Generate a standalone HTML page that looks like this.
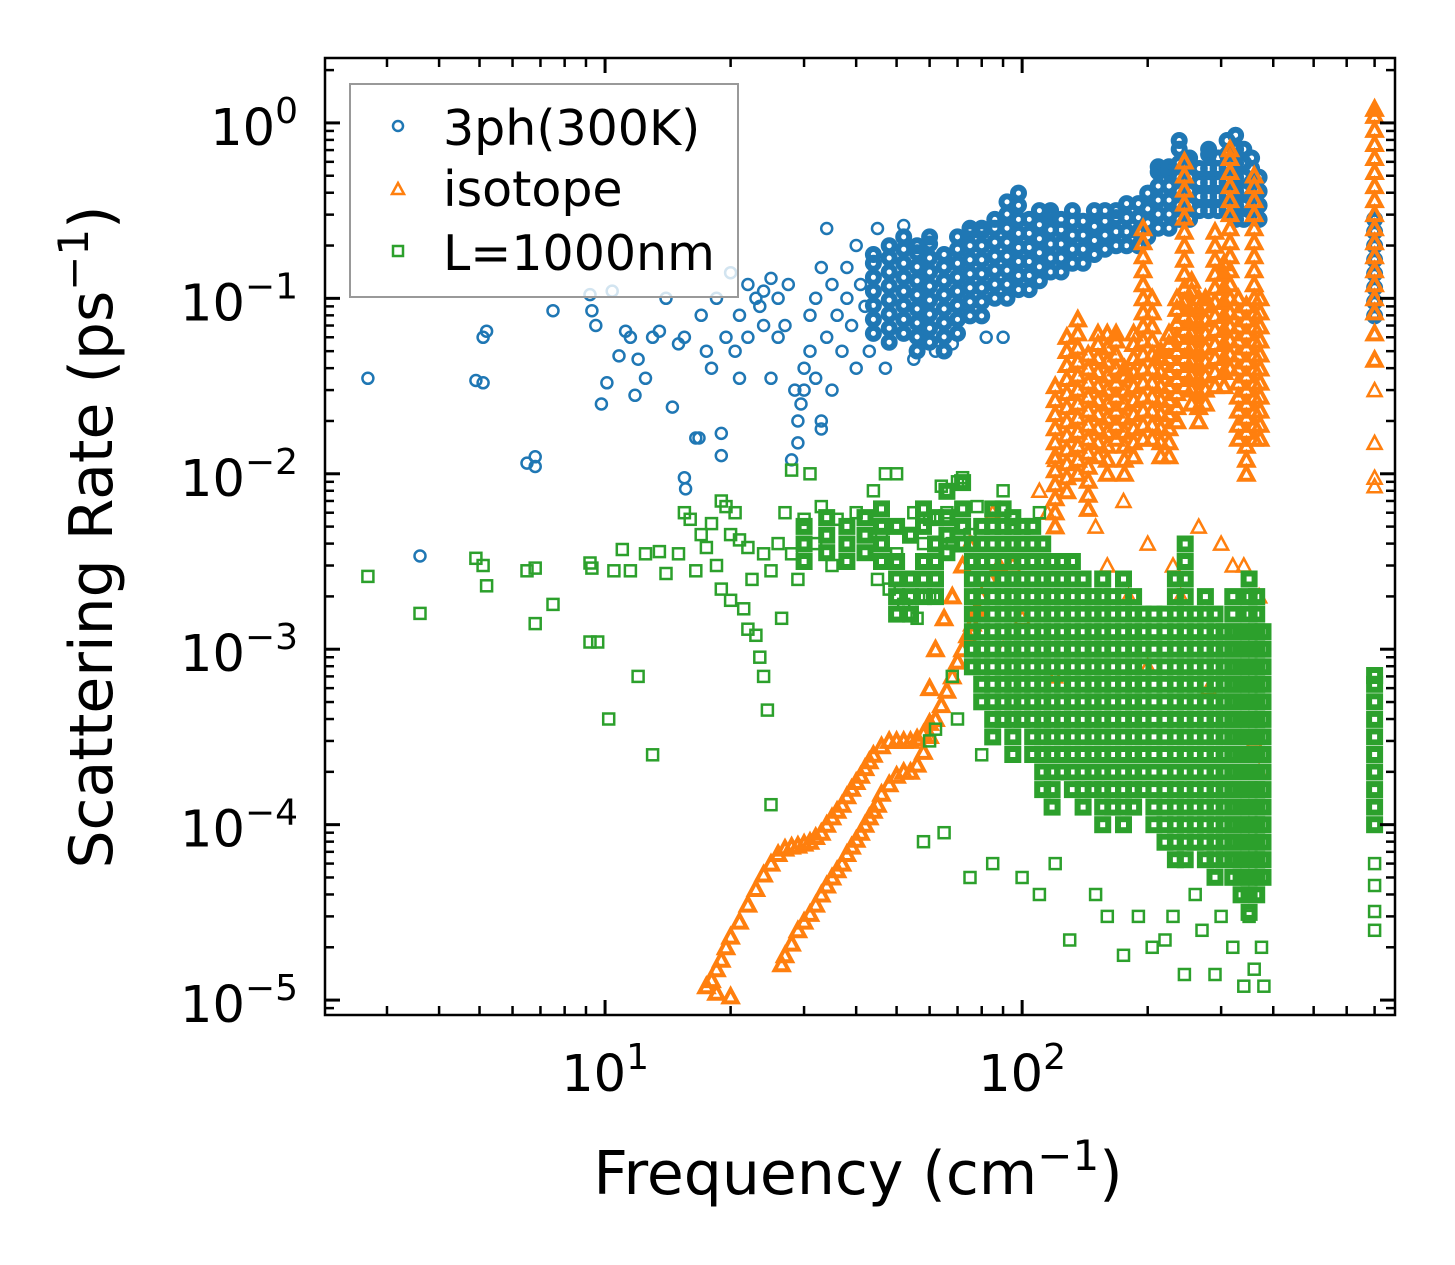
<!DOCTYPE html>
<html><head><meta charset="utf-8">
<style>
html,body{margin:0;padding:0;background:#fff;}
svg{display:block;font-family:"DejaVu Sans","Liberation Sans",sans-serif;}
</style></head>
<body>
<svg id="chart" width="1455" height="1265" viewBox="0 0 1455 1265" xmlns="http://www.w3.org/2000/svg">
<rect x="0" y="0" width="1455" height="1265" fill="#fff"/>
<g id="marks"></g>
<g id="axes"></g>
<g id="legend">
  <rect x="350" y="84" width="388" height="213" fill="#fff" fill-opacity="0.8" stroke="#999" stroke-width="2"/>
  <circle cx="398" cy="126" r="5" fill="none" stroke="#1f77b4" stroke-width="2.5"/>
  <text x="443" y="145" font-size="49">3ph(300K)</text>
  <polygon points="398,183 404,194 392,194" fill="none" stroke="#ff7f0e" stroke-width="2.5"/>
  <text x="443" y="206" font-size="49">isotope</text>
  <rect x="393" y="246" width="10" height="10" fill="none" stroke="#2ca02c" stroke-width="2.5"/>
  <text x="443" y="270" font-size="49">L=1000nm</text>
</g>
<text x="858" y="1194" font-size="60" text-anchor="middle">Frequency (cm<tspan dy="-24" font-size="42">−1</tspan><tspan dy="24">)</tspan></text>
<text transform="translate(112,537) rotate(-90)" x="0" y="0" font-size="60" text-anchor="middle">Scattering Rate (ps<tspan dy="-24" font-size="42">−1</tspan><tspan dy="24">)</tspan></text>
</svg>
<script>
// axis tick data
const xMajorExps = [1, 2];
const yMajorExps = [0, -1, -2, -3, -4, -5];
// 3ph sparse points [freq, rate]
const blueSparse = [[2.7,0.035],[3.6,0.0034],[4.9,0.034],[5.1,0.06],[5.1,0.033],[5.2,0.065],[6.5,0.0115],[6.8,0.0125],[6.8,0.011],[7.5,0.085],[9.2,0.105],[9.3,0.085],[9.5,0.07],[9.8,0.025],[10.1,0.033],[10.4,0.11],[10.8,0.047],[11.2,0.065],[11.5,0.06],[11.8,0.028],[12,0.045],[12.5,0.035],[13,0.06],[13.5,0.065],[14,0.1],[14.5,0.024],[15,0.055],[15.5,0.06],[15.5,0.0095],[15.6,0.0082],[16.5,0.016],[16.8,0.016],[17,0.08],[17.5,0.05],[18,0.04],[18.5,0.1],[19,0.017],[19,0.0127],[19.5,0.06],[20,0.14],[20.5,0.05],[21,0.035],[21,0.08],[22,0.12],[22,0.06],[23,0.1],[23.5,0.09],[24,0.11],[24,0.07],[25,0.13],[25,0.035],[26,0.1],[26,0.06],[27,0.07],[27.5,0.12],[28,0.012],[28.5,0.03],[29,0.02],[29,0.015],[29.5,0.025],[30,0.03],[30,0.04],[31,0.05],[31,0.08],[32,0.1],[32,0.035],[33,0.15],[33,0.02],[33,0.018],[34,0.25],[34,0.06],[35,0.12],[35,0.03],[36,0.08],[37,0.05],[38,0.15],[38,0.1],[39,0.07],[40,0.2],[40,0.04],[41,0.12],[42,0.09],[43,0.05],[45,0.25],[47,0.04],[52,0.26],[55,0.045],[62,0.05],[68,0.055],[82,0.06],[90,0.06]];
// 3ph dense columns [freq, [log10 rate ...]]
const blueCols = [
[44,[-1.2,-1.12,-1.04,-0.96,-0.88,-0.8,-0.75]],
[48,[-1.25,-1.17,-1.09,-1.01,-0.93,-0.85,-0.77,-0.7]],
[52,[-1.2,-1.12,-1.04,-0.96,-0.88,-0.8,-0.72,-0.65]],
[56,[-1.3,-1.22,-1.14,-1.06,-0.98,-0.9,-0.82,-0.74,-0.7]],
[60,[-1.25,-1.17,-1.09,-1.01,-0.93,-0.85,-0.77,-0.69,-0.65]],
[65,[-1.3,-1.22,-1.14,-1.06,-0.98,-0.9,-0.82,-0.75]],
[70,[-1.2,-1.12,-1.04,-0.96,-0.88,-0.8,-0.72,-0.65]],
[75,[-1.1,-1.02,-0.94,-0.86,-0.78,-0.7,-0.62,-0.6]],
[80,[-1.1,-1.02,-0.94,-0.86,-0.78,-0.7,-0.62,-0.6]],
[86,[-1.0,-0.92,-0.84,-0.76,-0.68,-0.6,-0.55]],
[92,[-1.0,-0.92,-0.84,-0.76,-0.68,-0.6,-0.52,-0.45]],
[98,[-0.95,-0.87,-0.79,-0.71,-0.63,-0.55,-0.47,-0.4]],
[104,[-0.95,-0.87,-0.79,-0.71,-0.63,-0.55]],
[110,[-0.9,-0.82,-0.74,-0.66,-0.58,-0.5]],
[117,[-0.85,-0.77,-0.69,-0.61,-0.53,-0.5]],
[124,[-0.85,-0.77,-0.69,-0.61,-0.55]],
[132,[-0.8,-0.72,-0.64,-0.56,-0.5]],
[140,[-0.8,-0.72,-0.64,-0.56]],
[149,[-0.75,-0.67,-0.59,-0.5]],
[158,[-0.72,-0.64,-0.56,-0.5]],
[168,[-0.7,-0.62,-0.54,-0.5]],
[178,[-0.7,-0.62,-0.54,-0.46]],
[190,[-0.7,-0.62,-0.54,-0.46]],
[200,[-0.65,-0.57,-0.49,-0.4]],
[212,[-0.6,-0.52,-0.44,-0.36,-0.28,-0.25]],
[225,[-0.6,-0.52,-0.44,-0.36,-0.28,-0.25]],
[238,[-0.55,-0.47,-0.39,-0.31,-0.23,-0.15,-0.1]],
[252,[-0.55,-0.47,-0.39,-0.31,-0.23,-0.2]],
[266,[-0.5,-0.42,-0.34,-0.26]],
[280,[-0.5,-0.42,-0.34,-0.26,-0.18,-0.15]],
[295,[-0.5,-0.42,-0.34,-0.26,-0.2]],
[310,[-0.5,-0.42,-0.34,-0.26,-0.18,-0.1]],
[325,[-0.55,-0.47,-0.39,-0.31,-0.23,-0.15,-0.07]],
[340,[-0.55,-0.47,-0.39,-0.31,-0.23,-0.15]],
[355,[-0.5,-0.42,-0.34,-0.26,-0.2]],
[370,[-0.55,-0.47,-0.39,-0.31]],
[700,[-1.1,-1.02,-0.94,-0.86,-0.78,-0.7,-0.62,-0.55]]];
// isotope curves [freq, rate]
const orangeCurveA = [[17.5,1.2e-5],[18,1.3e-5],[18.5,1.5e-5],[19,1.7e-5],[19.5,2e-5],[20,2.3e-5],[21,2.8e-5],[22,3.5e-5],[23,4.3e-5],[24,5.2e-5],[25,6e-5],[26,6.8e-5],[27,7.3e-5],[28,7.5e-5],[29,7.6e-5],[30,7.8e-5],[31,8e-5],[32,8.5e-5],[33,9e-5],[34,1e-4],[35,1.1e-4],[36,1.2e-4],[37,1.3e-4],[38,1.45e-4],[39,1.6e-4],[40,1.75e-4],[41,1.9e-4],[42,2.1e-4],[43,2.3e-4],[44,2.5e-4],[46,2.8e-4],[48,3e-4],[50,3e-4],[52,3e-4],[54,3e-4],[56,3.1e-4],[58,3.3e-4],[60,3.8e-4],[18.5,1.1e-5],[20,1.05e-5]];
const orangeCurveB = [[26.5,1.6e-5],[27,1.8e-5],[28,2.1e-5],[29,2.5e-5],[30,2.8e-5],[31,3.1e-5],[32,3.5e-5],[33,4e-5],[34,4.5e-5],[35,5e-5],[36,5.5e-5],[37,6e-5],[38,6.8e-5],[39,7.5e-5],[40,8.2e-5],[41,9e-5],[42,1e-4],[43,1.1e-4],[44,1.2e-4],[45,1.3e-4],[46,1.5e-4],[48,1.7e-4],[50,1.9e-4],[52,2e-4],[54,2e-4],[56,2.2e-4],[58,2.6e-4],[60,3.2e-4],[62,4e-4],[64,4.8e-4],[66,5.8e-4],[68,7e-4],[70,8.5e-4],[72,1e-3],[74,1.2e-3],[76,1.4e-3],[78,1.7e-3],[80,2e-3],[84,2.5e-3],[88,3e-3],[60,6e-4],[62,1e-3],[65,1.5e-3],[68,2e-3],[72,3e-3],[75,4e-3]];
const orangeSparse = [[110,0.008],[115,0.006],[120,0.012],[150,0.005],[160,0.003],[175,0.007],[200,0.004],[230,0.003],[240,0.002],[265,0.005],[300,0.004],[320,0.003],[340,0.003],[370,0.002],[100,0.0015],[90,0.001],[180,0.002],[85,0.006],[95,0.003],[120,0.0007],[200,0.0008],[280,0.0006],[360,0.0003],[370,0.0002],[700,0.0085],[700,0.0095],[700,0.015],[700,0.03],[700,0.045]];
// isotope dense columns [freq, [log10 rate ...]]
const orangeCols = [
[120,[-2.3,-2.22,-2.14,-2.06,-1.98,-1.9,-1.82,-1.74,-1.66,-1.58,-1.5]],
[128,[-2.1,-2.02,-1.94,-1.86,-1.78,-1.7,-1.62,-1.54,-1.46,-1.38,-1.3,-1.22]],
[136,[-2.0,-1.92,-1.84,-1.76,-1.68,-1.6,-1.52,-1.44,-1.36,-1.28,-1.2,-1.12]],
[144,[-2.2,-2.12,-2.04,-1.96,-1.88,-1.8,-1.72,-1.64,-1.56,-1.48,-1.4,-1.32]],
[152,[-1.9,-1.82,-1.74,-1.66,-1.58,-1.5,-1.42,-1.34,-1.26,-1.2]],
[160,[-2.0,-1.92,-1.84,-1.76,-1.68,-1.6,-1.52,-1.44,-1.36,-1.28,-1.2]],
[168,[-1.8,-1.72,-1.64,-1.56,-1.48,-1.4,-1.32,-1.24,-1.2]],
[176,[-2.0,-1.92,-1.84,-1.76,-1.68,-1.6,-1.52,-1.44,-1.4]],
[185,[-1.9,-1.82,-1.74,-1.66,-1.58,-1.5,-1.42,-1.34,-1.26,-1.2]],
[195,[-1.8,-1.72,-1.64,-1.56,-1.48,-1.4,-1.32,-1.24,-1.16,-1.08,-1.0,-0.92,-0.84,-0.76,-0.68,-0.6]],
[205,[-1.8,-1.72,-1.64,-1.56,-1.48,-1.4,-1.32,-1.24,-1.16,-1.08,-1.0]],
[215,[-1.9,-1.82,-1.74,-1.66,-1.58,-1.5,-1.42,-1.34,-1.3]],
[225,[-1.9,-1.82,-1.74,-1.66,-1.58,-1.5,-1.42,-1.34,-1.26,-1.2]],
[235,[-1.7,-1.62,-1.54,-1.46,-1.38,-1.3,-1.22,-1.14,-1.06,-1.0]],
[245,[-1.5,-1.42,-1.34,-1.26,-1.18,-1.1,-1.02,-0.94,-0.86,-0.78,-0.7,-0.62,-0.54,-0.46,-0.38,-0.3,-0.22]],
[255,[-1.6,-1.52,-1.44,-1.36,-1.28,-1.2,-1.12,-1.04,-0.96,-0.9]],
[265,[-1.7,-1.62,-1.54,-1.46,-1.38,-1.3,-1.22,-1.14,-1.06,-1.0]],
[275,[-1.6,-1.52,-1.44,-1.36,-1.28,-1.2,-1.12,-1.04,-1.0]],
[290,[-1.5,-1.42,-1.34,-1.26,-1.18,-1.1,-1.02,-0.94,-0.86,-0.78,-0.7,-0.62]],
[305,[-1.5,-1.42,-1.34,-1.26,-1.18,-1.1,-1.02,-0.94,-0.86,-0.8]],
[315,[-1.4,-1.32,-1.24,-1.16,-1.08,-1.0,-0.92,-0.84,-0.76,-0.68,-0.6,-0.52,-0.44,-0.36,-0.28,-0.2,-0.15]],
[330,[-1.8,-1.72,-1.64,-1.56,-1.48,-1.4,-1.32,-1.24,-1.16,-1.08,-1.0]],
[345,[-2.0,-1.92,-1.84,-1.76,-1.68,-1.6,-1.52,-1.44,-1.36,-1.28,-1.2,-1.12,-1.04]],
[360,[-1.8,-1.72,-1.64,-1.56,-1.48,-1.4,-1.32,-1.24,-1.16,-1.08,-1.0,-0.92,-0.84,-0.76,-0.68,-0.6,-0.52,-0.44,-0.36,-0.3]],
[372,[-1.8,-1.72,-1.64,-1.56,-1.48,-1.4,-1.32,-1.24,-1.16,-1.08,-1.0]],
[700,[-1.35,-1.2,-1.08,-1.0,-0.92,-0.84,-0.76,-0.68,-0.6,-0.52,-0.44,-0.36,-0.28,-0.2,-0.12,-0.04,0.04,0.08]]];
// boundary sparse points [freq, rate]
const greenSparse = [[2.7,0.0026],[3.6,0.0016],[4.9,0.0033],[5.1,0.003],[5.2,0.0023],[6.5,0.0028],[6.8,0.0029],[6.8,0.0014],[7.5,0.0018],[9.2,0.0031],[9.3,0.0029],[9.2,0.0011],[9.6,0.0011],[10.2,0.0004],[10.5,0.0028],[11,0.0037],[11.5,0.0028],[12,0.0007],[12.5,0.0035],[13,0.00025],[13.5,0.0036],[14,0.0027],[15,0.0035],[15.5,0.006],[16,0.0055],[16.5,0.0028],[17,0.0045],[17.5,0.0038],[18,0.0052],[18.5,0.003],[19,0.007],[19,0.0022],[19.5,0.0065],[20,0.0045],[20,0.0019],[20.5,0.006],[21,0.0042],[21.5,0.0017],[22,0.0038],[22,0.0013],[22.5,0.0025],[23,0.0012],[23.5,0.0009],[24,0.0035],[24,0.0007],[24.5,0.00045],[25,0.00013],[25,0.0028],[26,0.004],[26.5,0.0015],[27,0.006],[28,0.0035],[28,0.0105],[29,0.0025],[30,0.0055],[31,0.01],[32,0.004],[33,0.0065],[34,0.0045],[35,0.003],[36,0.0055],[38,0.004],[40,0.006],[42,0.0035],[44,0.008],[45,0.0025],[46,0.0045],[47,0.01],[48,0.0022],[50,0.0035],[50,0.01],[52,0.0018],[54,0.0025],[55,0.006],[56,0.0015],[58,0.004],[60,0.0055],[60,0.002],[62,0.0032],[64,0.0085],[66,0.006],[68,0.004],[70,0.009],[72,0.0095],[75,0.0045],[78,0.0065],[90,0.008],[110,0.006],[65,0.00009],[75,0.00005],[85,0.00006],[100,0.00005],[110,0.00004],[130,0.000022],[160,0.00003],[175,0.000018],[205,0.00002],[220,0.000022],[245,0.000014],[270,0.000025],[290,0.000014],[320,0.00002],[340,0.000012],[360,0.000015],[380,0.000012],[58,0.00008],[70,0.0004],[80,0.00025],[60,0.0003],[62,0.00035],[68,0.0007],[120,0.00006],[150,0.00004],[190,0.00003],[230,0.00003],[260,0.00004],[300,0.00003],[350,0.00003],[375,0.00002],[700,0.000025],[700,0.000032],[700,0.000045],[700,0.00006]];
// boundary dense columns [freq, [log10 rate ...]]
const greenCols = [
[30,[-2.5,-2.4,-2.3]],[34,[-2.45,-2.35,-2.25]],[38,[-2.5,-2.4,-2.3]],[42,[-2.45,-2.35,-2.25]],
[46,[-2.5,-2.4,-2.3,-2.2]],[50,[-2.8,-2.7,-2.6,-2.5,-2.3]],[54,[-2.8,-2.7,-2.6,-2.35]],
[58,[-2.7,-2.6,-2.5,-2.3,-2.2]],[62,[-2.7,-2.6,-2.5,-2.4,-2.25]],[66,[-2.45,-2.35,-2.25,-2.1]],[72,[-2.4,-2.3,-2.2,-2.05]],
[76,[-3.1,-3.0,-2.9,-2.8,-2.7,-2.6,-2.5,-2.4]],
[80,[-3.3,-3.2,-3.1,-3.0,-2.9,-2.8,-2.7,-2.6,-2.5,-2.4,-2.3]],
[85,[-3.5,-3.4,-3.3,-3.2,-3.1,-3.0,-2.9,-2.8,-2.7,-2.6,-2.5,-2.4,-2.3,-2.2]],
[90,[-3.4,-3.3,-3.2,-3.1,-3.0,-2.9,-2.8,-2.7,-2.6,-2.5,-2.4,-2.3,-2.2]],
[95,[-3.6,-3.5,-3.4,-3.3,-3.2,-3.1,-3.0,-2.9,-2.8,-2.7,-2.6,-2.5,-2.4,-2.3,-2.25]],
[100,[-3.4,-3.3,-3.2,-3.1,-3.0,-2.9,-2.8,-2.7,-2.6,-2.5,-2.4,-2.3]],
[106,[-3.6,-3.5,-3.4,-3.3,-3.2,-3.1,-3.0,-2.9,-2.8,-2.7,-2.6,-2.5,-2.4,-2.3]],
[112,[-3.8,-3.7,-3.6,-3.5,-3.4,-3.3,-3.2,-3.1,-3.0,-2.9,-2.8,-2.7,-2.6,-2.5,-2.4]],
[118,[-3.9,-3.8,-3.7,-3.6,-3.5,-3.4,-3.3,-3.2,-3.1,-3.0,-2.9,-2.8,-2.7,-2.6,-2.5]],
[125,[-3.7,-3.6,-3.5,-3.4,-3.3,-3.2,-3.1,-3.0,-2.9,-2.8,-2.7,-2.6,-2.5]],
[132,[-3.8,-3.7,-3.6,-3.5,-3.4,-3.3,-3.2,-3.1,-3.0,-2.9,-2.8,-2.7,-2.6,-2.5]],
[140,[-3.9,-3.8,-3.7,-3.6,-3.5,-3.4,-3.3,-3.2,-3.1,-3.0,-2.9,-2.8,-2.7,-2.6]],
[148,[-3.8,-3.7,-3.6,-3.5,-3.4,-3.3,-3.2,-3.1,-3.0,-2.9,-2.8,-2.7]],
[156,[-4.0,-3.9,-3.8,-3.7,-3.6,-3.5,-3.4,-3.3,-3.2,-3.1,-3.0,-2.9,-2.8,-2.7,-2.6]],
[165,[-3.9,-3.8,-3.7,-3.6,-3.5,-3.4,-3.3,-3.2,-3.1,-3.0,-2.9,-2.8,-2.7]],
[175,[-4.0,-3.9,-3.8,-3.7,-3.6,-3.5,-3.4,-3.3,-3.2,-3.1,-3.0,-2.9,-2.8,-2.7,-2.6]],
[185,[-3.9,-3.8,-3.7,-3.6,-3.5,-3.4,-3.3,-3.2,-3.1,-3.0,-2.9,-2.8,-2.7]],
[195,[-3.8,-3.7,-3.6,-3.5,-3.4,-3.3,-3.2,-3.1,-3.0,-2.9,-2.8]],
[207,[-4.0,-3.9,-3.8,-3.7,-3.6,-3.5,-3.4,-3.3,-3.2,-3.1,-3.0,-2.9,-2.8]],
[220,[-4.1,-4.0,-3.9,-3.8,-3.7,-3.6,-3.5,-3.4,-3.3,-3.2,-3.1,-3.0,-2.9,-2.8]],
[233,[-4.2,-4.1,-4.0,-3.9,-3.8,-3.7,-3.6,-3.5,-3.4,-3.3,-3.2,-3.1,-3.0,-2.9,-2.8,-2.7,-2.6]],
[246,[-4.2,-4.1,-4.0,-3.9,-3.8,-3.7,-3.6,-3.5,-3.4,-3.3,-3.2,-3.1,-3.0,-2.9,-2.8,-2.7,-2.6,-2.5,-2.4]],
[260,[-4.1,-4.0,-3.9,-3.8,-3.7,-3.6,-3.5,-3.4,-3.3,-3.2,-3.1,-3.0,-2.9,-2.8]],
[275,[-4.2,-4.1,-4.0,-3.9,-3.8,-3.7,-3.6,-3.5,-3.4,-3.3,-3.2,-3.1,-3.0,-2.9,-2.8,-2.7]],
[290,[-4.3,-4.2,-4.1,-4.0,-3.9,-3.8,-3.7,-3.6,-3.5,-3.4,-3.3,-3.2,-3.1,-3.0,-2.9,-2.8]],
[305,[-4.2,-4.1,-4.0,-3.9,-3.8,-3.7,-3.6,-3.5,-3.4,-3.3,-3.2,-3.1,-3.0,-2.9]],
[320,[-4.3,-4.2,-4.1,-4.0,-3.9,-3.8,-3.7,-3.6,-3.5,-3.4,-3.3,-3.2,-3.1,-3.0,-2.9,-2.8,-2.7]],
[335,[-4.4,-4.3,-4.2,-4.1,-4.0,-3.9,-3.8,-3.7,-3.6,-3.5,-3.4,-3.3,-3.2,-3.1,-3.0,-2.9]],
[350,[-4.5,-4.4,-4.3,-4.2,-4.1,-4.0,-3.9,-3.8,-3.7,-3.6,-3.5,-3.4,-3.3,-3.2,-3.1,-3.0,-2.9,-2.8,-2.7,-2.6]],
[365,[-4.4,-4.3,-4.2,-4.1,-4.0,-3.9,-3.8,-3.7,-3.6,-3.5,-3.4,-3.3,-3.2,-3.1,-3.0,-2.9,-2.8,-2.7]],
[378,[-4.3,-4.2,-4.1,-4.0,-3.9,-3.8,-3.7,-3.6,-3.5,-3.4,-3.3,-3.2,-3.1,-3.0,-2.9]],
[700,[-4.0,-3.9,-3.8,-3.7,-3.6,-3.5,-3.4,-3.3,-3.2,-3.15]]];

const NS = 'http://www.w3.org/2000/svg';
const PL = 325, PR = 1395, PT = 58, PB = 1015;
const xLogMin = 0.3285, xLogMax = 2.894;
const yLogMin = -5.085, yLogMax = 0.37;
function xs(f){ return PL + (Math.log10(f) - xLogMin) / (xLogMax - xLogMin) * (PR - PL); }
function ysLog(l){ return PB - (l - yLogMin) / (yLogMax - yLogMin) * (PB - PT); }
function ys(r){ return ysLog(Math.log10(r)); }
const marks = document.getElementById('marks');
const axes = document.getElementById('axes');
function mk(tag, attrs, parent){
  const e = document.createElementNS(NS, tag);
  for (const k in attrs) e.setAttribute(k, attrs[k]);
  parent.appendChild(e);
  return e;
}
function grp(color, w, name){
  const g = mk('g', {fill:'none', stroke:color, 'stroke-width':w}, marks);
  
  
  return g;
}
const gB = grp('#1f77b4', '2.5', 'series-3ph');
const gBd = grp('#1f77b4', '6', 'series-3ph-dense');
const gO = grp('#ff7f0e', '2.5', 'series-isotope');
const gOd = grp('#ff7f0e', '4', 'series-isotope-dense');
const gG = grp('#2ca02c', '2.5', 'series-boundary');
const gGd = grp('#2ca02c', '6', 'series-boundary-dense');
function circ(x, y, g){
  const c = mk('circle', {cx:x.toFixed(1), cy:y.toFixed(1), r:'5.5'}, g);
  
  
}
function tri(x, y, g){
  const p = mk('polygon', {points:`${x.toFixed(1)},${(y-7).toFixed(1)} ${(x+7).toFixed(1)},${(y+6).toFixed(1)} ${(x-7).toFixed(1)},${(y+6).toFixed(1)}`}, g);
  
  
}
function sq(x, y, g){
  const r = mk('rect', {x:(x-5.5).toFixed(1), y:(y-5.5).toFixed(1), width:'11', height:'11'}, g);
  
  
}
blueSparse.forEach(d => circ(xs(d[0]), ys(d[1]), gB));
blueCols.forEach(c => c[1].forEach(l => circ(xs(c[0]), ysLog(l), gBd)));
orangeCurveA.forEach(d => tri(xs(d[0]), ys(d[1]), gOd));
orangeCurveB.forEach(d => tri(xs(d[0]), ys(d[1]), gOd));
orangeSparse.forEach(d => tri(xs(d[0]), ys(d[1]), gO));
orangeCols.forEach(c => c[1].forEach(l => tri(xs(c[0]), ysLog(l), gOd)));
greenSparse.forEach(d => sq(xs(d[0]), ys(d[1]), gG));
greenCols.forEach(c => c[1].forEach(l => sq(xs(c[0]), ysLog(l), gGd)));

const frame = mk('rect', {x:PL, y:PT, width:PR-PL, height:PB-PT, fill:'none', stroke:'#000', 'stroke-width':'2.5'}, axes);


function tickLine(x1,y1,x2,y2,w,name){
  const l = mk('line', {x1:x1, y1:y1, x2:x2, y2:y2, stroke:'#000', 'stroke-width':w}, axes);
  
  
}
for (let e = 0; e <= 2; e++){
  for (let m = 1; m <= 9; m++){
    const f = m * Math.pow(10, e);
    const x = xs(f);
    if (x < PL || x > PR) continue;
    const major = (m === 1);
    const len = major ? 15 : 9;
    const w = major ? 3 : 2.5;
    tickLine(x, PB, x, PB-len, w, major ? 'x-major-tick' : 'x-minor-tick');
    tickLine(x, PT, x, PT+len, w, major ? 'x-major-tick-top' : 'x-minor-tick-top');
  }
}
xMajorExps.forEach(e => {
  const t = mk('text', {x:xs(Math.pow(10,e)).toFixed(1), y:'1091', 'font-size':'51', 'text-anchor':'middle'}, axes);
  
  
  t.innerHTML = `10<tspan dy="-22" font-size="36">${e}</tspan>`;
});
for (let e = -6; e <= 0; e++){
  for (let m = 1; m <= 9; m++){
    const l = Math.log10(m) + e;
    const y = ysLog(l);
    if (y < PT || y > PB) continue;
    const major = (m === 1);
    const len = major ? 15 : 9;
    const w = major ? 3 : 2.5;
    tickLine(PL, y, PL+len, y, w, major ? 'y-major-tick' : 'y-minor-tick');
    tickLine(PR, y, PR-len, y, w, major ? 'y-major-tick-right' : 'y-minor-tick-right');
  }
}
yMajorExps.forEach(e => {
  const t = mk('text', {x:'298', y:(ysLog(e)+22).toFixed(1), 'font-size':'51', 'text-anchor':'end'}, axes);
  
  
  const s = e === 0 ? '0' : '−' + Math.abs(e);
  t.innerHTML = `10<tspan dy="-22" font-size="36">${s}</tspan>`;
});
</script>
</body></html>
